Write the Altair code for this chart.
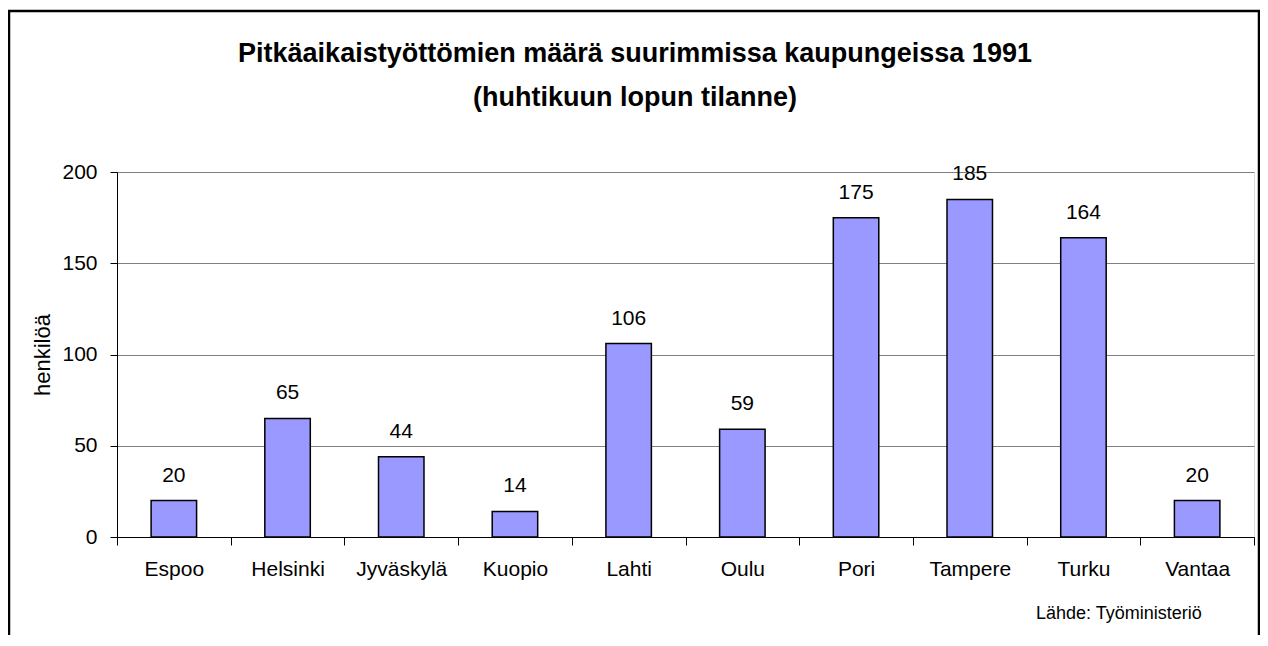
import altair as alt
import pandas as pd

cities = ["Espoo", "Helsinki", "Jyväskylä", "Kuopio", "Lahti", "Oulu", "Pori", "Tampere", "Turku", "Vantaa"]
values = [20, 65, 44, 14, 106, 59, 175, 185, 164, 20]
y_ticks = [0, 50, 100, 150, 200]
title_lines = ["Pitkäaikaistyöttömien määrä suurimmissa kaupungeissa 1991", "(huhtikuun lopun tilanne)"]
source_text = "Lähde: Työministeriö"

df = pd.DataFrame({"city": cities, "value": values})
FONT = "Liberation Sans"

base = alt.Chart(df)

x_enc = alt.X("city:N", sort=cities, title=None,
              scale=alt.Scale(paddingInner=0, paddingOuter=0),
              axis=alt.Axis(labelAngle=0, labelFontSize=21, labelColor="black", labelFont=FONT,
                            labelPadding=13, tickColor="black", tickSize=8, tickBand="extent",
                            domainColor="black", grid=False))
y_enc = alt.Y("value:Q", title="henkilöä",
              scale=alt.Scale(domain=[0, 200], nice=False),
              axis=alt.Axis(values=y_ticks, labelFontSize=21, labelColor="black", labelFont=FONT,
                            titleFontSize=22, titleFont=FONT, titleFontWeight="normal", titleColor="black",
                            titlePadding=7, tickColor="black", tickSize=7, labelPadding=13,
                            domainColor="black", grid=True, gridColor="#808080"))

bars = base.mark_bar(color="#9999FF", stroke="black", strokeWidth=1.5,
                     width=alt.RelativeBandSize(0.4)).encode(x=x_enc, y=y_enc)

labels = base.mark_text(fontSize=21, font=FONT, color="black", baseline="middle", dy=-25).encode(
    x=alt.X("city:N", sort=cities), y="value:Q", text="value:Q")

tdf = pd.DataFrame({"t": title_lines, "yy": [-110, -66]})
title = alt.Chart(tdf).mark_text(fontSize=27, font=FONT, fontWeight="bold", color="black",
                                 align="center", baseline="alphabetic").encode(
    x=alt.value(518), y=alt.Y("yy:Q", scale=None), text="t:N")

source = alt.Chart(pd.DataFrame({"t": [source_text]})).mark_text(
    fontSize=18, font=FONT, color="black", align="left", baseline="middle").encode(
    x=alt.value(919), y=alt.value(442), text="t:N")

frame = alt.Chart(pd.DataFrame({"t": [0]})).mark_rect(
    fill=None, stroke="black", strokeWidth=2.5, clip=False).encode(
    x=alt.value(-108), x2=alt.value(1142), y=alt.value(-161), y2=alt.value(470))

chart = alt.layer(frame, bars, labels, title, source).properties(
    width=1137, height=365,
    padding={"left": 109, "top": 164, "right": 6, "bottom": 98},
    autosize=alt.AutoSizeParams(type="none"),
).configure_view(stroke="#808080", strokeWidth=2).configure(background="white")

chart.save("out.html", embed_options={"renderer": "svg", "actions": False})
